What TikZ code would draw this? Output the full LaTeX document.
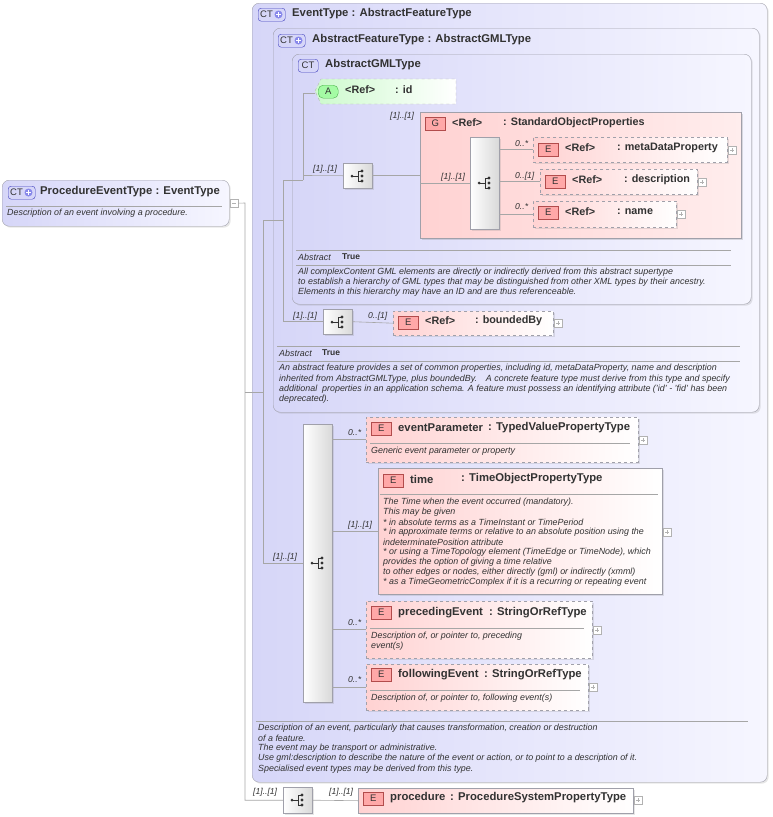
\documentclass[tikz,border=0pt]{standalone}
\usepackage{fontspec}
\setmainfont{Liberation Sans}
\usetikzlibrary{shadows}
\definecolor{lav}{RGB}{214,214,248}
\definecolor{lavR}{RGB}{246,246,255}
\definecolor{pnk}{RGB}{255,210,210}
\definecolor{grn}{RGB}{205,250,205}
\definecolor{bd}{RGB}{160,160,170}
\definecolor{txt}{RGB}{50,50,50}
\tikzset{
 x=1pt,y=-1pt,
 ct/.style={draw=bd,rounded corners=7,left color=lav,right color=lavR,anchor=north west,inner sep=0,drop shadow={opacity=0.2,shadow xshift=1.5pt,shadow yshift=-1.5pt}},
 gbox/.style={draw=bd,left color=pnk,right color=pnk!40,anchor=north west,inner sep=0,drop shadow={opacity=0.25,shadow xshift=2pt,shadow yshift=-2pt}},
 ebox/.style={draw=bd,left color=pnk,right color=white,anchor=north west,inner sep=0,drop shadow={opacity=0.2,shadow xshift=1.5pt,shadow yshift=-1.5pt}},
 seq/.style={draw=bd,left color=white,right color=gray!30,anchor=north west,inner sep=0,drop shadow={opacity=0.2,shadow xshift=1.5pt,shadow yshift=-1.5pt}},
 badge/.style={draw=red!40!gray,fill=pnk!80!red,text=txt,font=\fontsize{9.5}{10}\selectfont,minimum width=20,minimum height=13,inner sep=0,anchor=north west},
 ctb/.style={draw=gray!50!blue,rounded corners=3,fill=lav,minimum width=#1,minimum height=13,inner sep=0,anchor=north west},
 ttl/.style={font=\bfseries\fontsize{11.3}{13}\selectfont,text=txt,anchor=west,inner sep=0},
 rtl/.style={font=\bfseries\fontsize{10.8}{13}\selectfont,text=txt,anchor=west,inner sep=0},
 dsc/.style={font=\itshape\fontsize{8.9}{10}\selectfont,text=txt,anchor=west,inner sep=0},
 mul/.style={font=\itshape\fontsize{8.6}{10}\selectfont,text=txt,anchor=west,inner sep=0},
 ln/.style={draw=gray!70,line width=0.6},
 rule/.style={draw=gray!70,line width=0.5},
}
\newcommand{\seqicon}[1]{%
 \begin{scope}[shift={#1}]
 \fill[txt] (-7,0) circle (1.5);
 \draw[txt,line width=0.7] (-7,0)--(-1,0) (-1,-5)--(-1,5) (-1,-5)--(3,-5) (-1,5)--(3,5);
 \fill[txt] (3,-5) circle (1.7) (3,0) circle (1.7) (3,5) circle (1.7);
 \end{scope}}
\newcommand{\plusbox}[2]{\draw[gray!60,fill=white] (#1,#2) rectangle ++(8,8);
 \draw[gray!60] (#1+2,#2+4)--(#1+6,#2+4) (#1+4,#2+2)--(#1+4,#2+6);}
\newcommand{\ctplus}[3]{\node[ctb=27] (#3) at (#1,#2) {};
 \node[font=\fontsize{9.5}{10}\selectfont,text=txt,inner sep=0,anchor=west] at (#1+2,#2+6.5) {CT};
 \fill[gray!30!blue!55] (#1+20.5,#2+6.5) circle (4);
 \draw[white,line width=1.1] (#1+18,#2+6.5)--(#1+23,#2+6.5) (#1+20.5,#2+4)--(#1+20.5,#2+9);}
\begin{document}
\begin{tikzpicture}
\useasboundingbox (0,0) rectangle (772,817);
% outer boxes
\node[ct,minimum width=515,minimum height=779] (ev) at (252,3) {};
\node[ct,minimum width=486,minimum height=384] (af) at (273,28) {};
\node[ct,minimum width=459,minimum height=250] (ag) at (292,54) {};
\ctplus{258}{8}{b1}\node[ttl] at (292,14) {EventType : AbstractFeatureType};
\ctplus{278}{34}{b2}\node[ttl] at (312,40) {AbstractFeatureType : AbstractGMLType};
\node[ctb=20] at (298,59) {};\node[font=\fontsize{9.5}{10}\selectfont,text=txt,inner sep=0] at (308,65.5) {CT};
\node[ttl] at (325,65) {AbstractGMLType};
% ProcedureEventType
\node[ct,minimum width=227,minimum height=46] (pe) at (2,180) {};
\ctplus{8}{186}{b0}\node[ttl] at (40,192) {ProcedureEventType : EventType};
\draw[rule] (6,206)--(222,206);
\node[dsc] at (7,213) {Description of an event involving a procedure.};
\node[draw=gray!60,fill=white,minimum size=8,inner sep=0,anchor=north west] (pm) at (230,199) {};
\draw[gray!60] (232,203)--(236,203);
% id attribute
\shade[left color=grn,right color=white,draw=gray!60,dashed] (315,91)--(321,79)--(456,79)--(456,104)--(321,104)--cycle;
\coordinate (idw) at (315,93);
\node[draw=green!40!gray,fill=grn!80!green,rounded corners=5,minimum width=20,minimum height=13,inner sep=0,anchor=north west,font=\fontsize{9.5}{10}\selectfont,text=txt] at (318,85) {A};
\node[rtl] at (345,90) {<Ref>};
\node[rtl] at (395,90) {: id};
% G box
\node[gbox,minimum width=321,minimum height=126] (G) at (420,112) {};
\node[badge] at (425,117) {G};
\node[rtl] at (452,123) {<Ref>};
\node[rtl] at (503,123) {: StandardObjectProperties};
\node[seq,minimum width=29,minimum height=92] (si) at (470,137) {};
\seqicon{(486,183)}
\node[ebox,dashed,minimum width=194,minimum height=25] (md) at (533,137) {};
\node[badge] at (538,143) {E};\node[rtl] at (565,148) {<Ref>};\node[rtl] at (617,148) {: metaDataProperty};\plusbox{728}{146}
\node[ebox,dashed,minimum width=157,minimum height=25] (de) at (540,169) {};
\node[badge] at (545,175) {E};\node[rtl] at (572,180) {<Ref>};\node[rtl] at (624,180) {: description};\plusbox{698}{178}
\node[ebox,dashed,minimum width=143,minimum height=26] (nm) at (533,201) {};
\node[badge] at (538,206) {E};\node[rtl] at (565,212) {<Ref>};\node[rtl] at (617,212) {: name};\plusbox{677}{210}
\node[mul] at (515,144) {0..*};\node[mul] at (515,176) {0..[1]};\node[mul] at (515,207) {0..*};
\node[mul] at (441,177) {[1]..[1]};\node[mul] at (390,116) {[1]..[1]};
% GML seq
\node[seq,minimum width=29,minimum height=25] (sg) at (343,163) {};
\seqicon{(359,176)}
\node[mul] at (313,169) {[1]..[1]};
% GML abstract text
\draw[rule] (296,250)--(731,250) (296,265)--(731,265);
\node[dsc] at (298,257) {Abstract};\node[font=\bfseries\fontsize{8.5}{9}\selectfont,text=txt,anchor=west,inner sep=0] at (342,257) {True};
\node[dsc] at (298,272) {All complexContent GML elements are directly or indirectly derived from this abstract supertype};
\node[dsc] at (298,282) {to establish a hierarchy of GML types that may be distinguished from other XML types by their ancestry.};
\node[dsc] at (298,292) {Elements in this hierarchy may have an ID and are thus referenceable.};
% boundedBy
\node[seq,minimum width=29,minimum height=25] (sb) at (323,309) {};
\seqicon{(339,322)}
\node[mul] at (293,316) {[1]..[1]};\node[mul] at (368,316) {0..[1]};
\node[ebox,dashed,minimum width=160,minimum height=24] (bb) at (393,311) {};
\node[badge] at (398,316) {E};\node[rtl] at (425,321) {<Ref>};\node[rtl] at (475,321) {: boundedBy};\plusbox{554}{319}
% Feature abstract
\draw[rule] (277,346)--(740,346) (277,361)--(740,361);
\node[dsc] at (279,353) {Abstract};\node[font=\bfseries\fontsize{8.5}{9}\selectfont,text=txt,anchor=west,inner sep=0] at (322,353) {True};
\node[dsc] at (279,368) {An abstract feature provides a set of common properties, including id, metaDataProperty, name and description};
\node[dsc] at (279,379) {inherited from AbstractGMLType, plus boundedBy.\quad A concrete feature type must derive from this type and specify};
\node[dsc] at (279,389) {additional\ \ properties in an application schema. A feature must possess an identifying attribute ('id' - 'fid' has been};
\node[dsc] at (279,399) {deprecated).};
% Event sequence
\node[seq,minimum width=29,minimum height=278] (s3) at (303,424) {};
\seqicon{(319,563)}
\node[ebox,dashed,minimum width=272,minimum height=45] (ep) at (366,417) {};
\node[badge] at (371,422) {E};\node[ttl] at (398,428) {eventParameter};\node[ttl] at (488,428) {: TypedValuePropertyType};
\draw[rule] (370,443)--(630,443);\node[dsc] at (371,451) {Generic event parameter or property};\plusbox{639}{436}
\node[ebox,minimum width=284,minimum height=126] (tm) at (378,468) {};
\node[badge] at (383,474) {E};\node[ttl] at (410,479) {time};\node[ttl] at (461,479) {: TimeObjectPropertyType};
\draw[rule] (380,494)--(658,494);\plusbox{663}{528}
\node[dsc] at (383,502) {The Time when the event occurred (mandatory).};
\node[dsc] at (383,512) {This may be given};
\node[dsc] at (383,522) {* in absolute terms as a TimeInstant or TimePeriod};
\node[dsc] at (383,532) {* in approximate terms or relative to an absolute position using the};
\node[dsc] at (383,542) {indeterminatePosition attribute};
\node[dsc] at (383,552) {* or using a TimeTopology element (TimeEdge or TimeNode), which};
\node[dsc] at (383,562) {provides the option of giving a time relative};
\node[dsc] at (383,572) {to other edges or nodes, either directly (gml) or indirectly (xmml)};
\node[dsc] at (383,582) {* as a TimeGeometricComplex if it is a recurring or repeating event};
\node[ebox,dashed,minimum width=226,minimum height=57] (pv) at (366,601) {};
\node[badge] at (371,606) {E};\node[ttl] at (398,613) {precedingEvent};\node[ttl] at (489,613) {: StringOrRefType};
\draw[rule] (370,628)--(584,628);\plusbox{593}{626}
\node[dsc] at (371,636) {Description of, or pointer to, preceding};\node[dsc] at (371,646) {event(s)};
\node[ebox,dashed,minimum width=222,minimum height=46] (fe) at (366,664) {};
\node[badge] at (371,668) {E};\node[ttl] at (398,675) {followingEvent};\node[ttl] at (484,675) {: StringOrRefType};
\draw[rule] (370,690)--(580,690);\plusbox{589}{683}
\node[dsc] at (371,698) {Description of, or pointer to, following event(s)};
\node[mul] at (348,433) {0..*};\node[mul] at (348,525) {[1]..[1]};\node[mul] at (273,557) {[1]..[1]};
\node[mul] at (348,623) {0..*};\node[mul] at (348,680) {0..*};
% Event description
\draw[rule] (256,721)--(748,721);
\node[dsc] at (258,728) {Description of an event, particularly that causes transformation, creation or destruction};
\node[dsc] at (258,738) {of a feature.};
\node[dsc] at (258,748) {The event may be transport or administrative.};
\node[dsc] at (258,758) {Use gml:description to describe the nature of the event or action, or to point to a description of it.};
\node[dsc] at (258,769) {Specialised event types may be derived from this type.};
% procedure
\node[seq,minimum width=29,minimum height=26] (ps) at (283,787) {};
\seqicon{(299,800)}
\node[ebox,minimum width=275,minimum height=25] (pr) at (358,788) {};
\node[badge] at (363,792) {E};\node[ttl] at (390,798) {procedure};\node[ttl] at (450,798) {: ProcedureSystemPropertyType};\plusbox{634}{796}
\node[mul] at (253,792) {[1]..[1]};\node[mul] at (329,792) {[1]..[1]};
% connectors
\draw[ln] (pm.east) -- (245,203) |- (ps.west);
\draw[ln] (245,392) -- (263,392);
\draw[ln] (263,220) |- (s3.west);
\draw[ln] (263,220) -- (283,220);
\draw[ln] (283,180) |- (sb.west);
\draw[ln] (283,180) -- (303,180);
\draw[ln] (303,180) |- (idw);
\draw[ln] (303,175.5) -- (sg.west);
\draw[ln] (sg.east) -- (G.west |- sg.east);
\draw[ln] (G.west |- si.west) -- (si.west);
\draw[ln] (si.east |- md.west) -- (md.west);
\draw[ln] (si.east |- de.west) -- (de.west);
\draw[ln] (si.east |- nm.west) -- (nm.west);
\draw[ln] (sb.east) -- (bb.west);
\draw[ln] (s3.east |- ep.west) -- (ep.west);
\draw[ln] (s3.east |- tm.west) -- (tm.west);
\draw[ln] (s3.east |- pv.west) -- (pv.west);
\draw[ln] (s3.east |- fe.west) -- (fe.west);
\draw[ln] (ps.east) -- (pr.west);
\end{tikzpicture}
\end{document}
